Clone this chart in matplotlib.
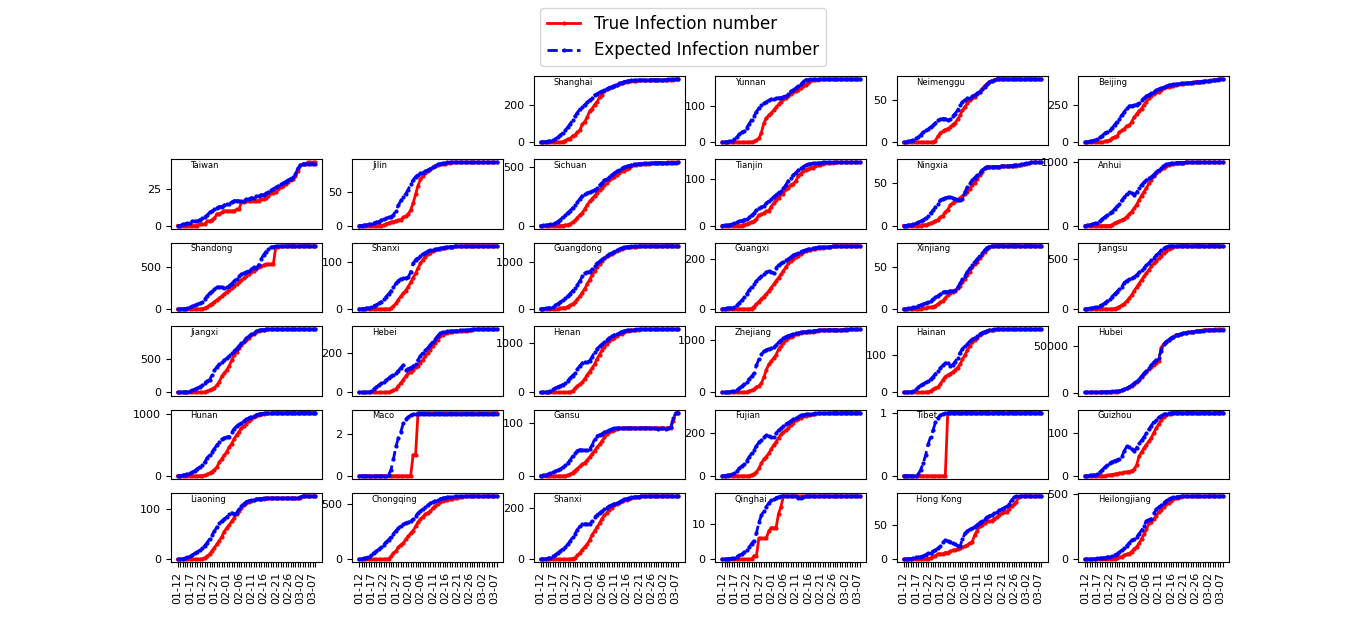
import numpy as np
import pandas as pd
import matplotlib
matplotlib.use("Agg")
import matplotlib.pyplot as plt
from matplotlib.ticker import MaxNLocator

# fechas 01-12 ... 03-08
dates = pd.date_range("2020-01-12", "2020-03-08").strftime("%m-%d").tolist()

provinces = ["Shanghai", "Yunnan", "Neimenggu", "Beijing",
             "Taiwan", "Jilin", "Sichuan", "Tianjin", "Ningxia", "Anhui",
             "Shandong", "Shanxi", "Guangdong", "Guangxi", "Xinjiang", "Jiangsu",
             "Jiangxi", "Hebei", "Henan", "Zhejiang", "Hainan", "Hubei",
             "Hunan", "Maco", "Gansu", "Fujian", "Tibet", "Guizhou",
             "Liaoning", "Chongqing", "Shanxi", "Qinghai", "Hong Kong", "Heilongjiang"]

# casos acumulados (true / expected)
shanghai_true = [0] * 9 + [2, 9, 16, 20, 33, 40, 53, 66, 96, 112, 135, 169, 182, 203, 219, 243, 257, 277, 286, 293,
                           299, 303, 311, 315, 318, 326, 328, 332, 333, 333, 333, 334, 334, 335, 335, 335, 336, 337,
                           337, 337, 337, 337, 338, 339, 339, 339, 342, 342]
shanghai_exp = [0, 2, 3, 5, 8, 12, 18, 27, 38, 50, 65, 80, 98, 118, 140, 160, 178, 192, 203, 215,
                228, 240, 255, 262, 270, 276, 283, 290, 296, 301, 306, 312, 318, 323, 327, 330, 332, 334, 335, 336,
                336, 337, 337, 337, 338, 338, 338, 338, 338, 339, 339, 339, 340, 340, 340, 341, 342]

yunnan_true = [0] * 12 + [1, 2, 5, 11, 26, 52, 66, 74, 80, 88, 96, 104, 112, 118, 122, 128, 134, 138, 140, 143,
                          149, 154, 157, 162, 168, 170, 172, 172, 173] + [174] * 16
yunnan_exp = [0, 0, 1, 2, 4, 8, 14, 22, 27, 32, 40, 50, 62, 72, 84, 94, 102, 107, 111, 115,
              118, 120, 121, 122, 123, 125, 128, 134, 140, 144, 149, 155, 160, 166, 172, 172, 173, 173] + [173] * 19

neimenggu_true = [0] * 13 + [2, 7, 11, 13, 15, 16, 18, 21, 23, 27, 32, 38, 42, 46, 50, 52, 54, 57, 60, 63,
                             67, 69, 72, 73, 74] + [75] * 19
neimenggu_exp = [0, 0, 1, 2, 3, 5, 6, 9, 12, 14, 16, 18, 20, 23, 26, 27, 28, 28, 26, 28,
                 31, 34, 38, 44, 48, 50, 52, 53, 55, 56, 58, 60, 63, 66, 69, 71, 73, 74] + [75] * 19

beijing_true = [0] * 8 + [5, 10, 14, 26, 36, 41, 68, 80, 91, 111, 114, 139, 168, 191, 212, 228, 253, 274, 297, 315,
                          326, 337, 342, 352, 366, 372, 375, 380, 381, 387, 393, 395, 396, 399, 399, 400, 400, 410,
                          410, 411, 413, 414, 414, 418, 418, 422, 426, 428, 428]
beijing_exp = [0, 2, 6, 10, 16, 22, 32, 45, 60, 72, 85, 96, 118, 138, 160, 185, 205, 232, 245, 248,
               250, 255, 268, 285, 298, 312, 322, 330, 340, 352, 360, 366, 372, 380, 386, 390, 392, 394, 396, 398,
               399, 400, 402, 404, 405, 407, 408, 410, 411, 413, 415, 417, 419, 421, 424, 426, 428]

taiwan_true = [0] * 9 + [1, 1, 1, 3, 3, 4, 5, 8, 8, 9, 10, 10, 10, 10, 10, 11, 11, 16, 16, 17,
                         17, 17, 17, 17, 17, 18, 18, 19, 20, 22, 22, 23, 25, 26, 27, 28, 30, 31, 32, 34,
                         37, 41, 42, 42, 43, 43, 43, 43]
taiwan_exp = [0, 0, 1, 1, 2, 2, 3, 3, 3, 4, 5, 6, 7, 9, 10, 11, 12, 13, 13, 14,
              15, 15, 16, 17, 17, 17, 17, 17, 18, 18, 19, 19, 20, 20, 21, 21, 22, 23, 24, 25,
              26, 27, 28, 29, 30, 31, 32, 33, 35, 39, 41, 42, 42, 42, 42, 42, 42]

jilin_true = [0] * 10 + [1, 3, 4, 5, 6, 7, 8, 9, 12, 14, 17, 23, 33, 46, 59, 68, 73, 77, 80, 83,
                         86, 88, 89, 90, 91, 91, 92, 92, 93, 93] + [93] * 17
jilin_exp = [0, 0, 1, 1, 2, 3, 4, 5, 6, 8, 10, 11, 12, 13, 16, 22, 30, 37, 42, 47,
             53, 61, 67, 72, 75, 77, 78, 80, 82, 84, 86, 88, 90, 91, 92, 92, 93] + [93] * 20

sichuan_true = [0] * 9 + [1, 5, 8, 15, 28, 44, 69, 90, 108, 142, 177, 207, 231, 254, 282, 301, 321, 344, 363, 386,
                          405, 417, 436, 451, 463, 470, 481, 495, 508, 514, 520, 525, 526, 526, 527, 529, 531, 534,
                          538, 538, 538, 538, 538, 539, 539, 539, 539, 539]
sichuan_exp = [0, 2, 4, 7, 10, 14, 22, 35, 50, 70, 90, 110, 128, 150, 172, 200, 230, 255, 272, 280,
               285, 292, 305, 322, 345, 365, 385, 400, 418, 432, 448, 462, 476, 488, 498, 506, 512, 518, 522, 525,
               527, 529, 530, 531, 532, 533, 534, 535, 535, 536, 536, 537, 537, 538, 538, 538, 539]

tianjin_true = [0] * 9 + [2, 4, 5, 8, 10, 14, 23, 24, 27, 31, 32, 41, 48, 56, 60, 67, 69, 78, 81, 88,
                          90, 96, 106, 112, 117, 120, 122, 124, 125, 128, 130, 131, 132, 135, 135, 135, 135] + [136] * 11
tianjin_exp = [0, 1, 1, 2, 3, 5, 7, 9, 11, 13, 15, 18, 22, 27, 33, 38, 40, 42, 48, 53,
               57, 62, 66, 71, 75, 80, 88, 97, 103, 109, 114, 119, 124, 127, 130, 132, 133, 134, 134, 135,
               135] + [136] * 16

ningxia_true = [0] * 8 + [1, 1, 2, 3, 4, 6, 7, 10, 12, 16, 19, 24, 27, 29, 31, 33, 35, 38, 40, 44,
                          48, 51, 55, 60, 64, 68, 70, 70, 70, 70, 70, 70, 71, 71, 71, 71, 71, 71, 71, 72,
                          72, 73, 73, 74, 75, 75, 75, 75, 75]
ningxia_exp = [0, 0, 1, 1, 2, 3, 4, 5, 7, 9, 12, 15, 18, 22, 26, 30, 32, 33, 34, 34,
               33, 32, 31, 30, 32, 40, 46, 50, 54, 57, 60, 63, 66, 68, 70, 70, 70, 70, 70, 70,
               71, 71, 71, 71, 71, 72, 72, 72, 73, 73, 74, 74, 75, 75, 75, 75, 75]

anhui_true = [0] * 10 + [1, 15, 39, 55, 70, 90, 106, 140, 180, 220, 270, 330, 400, 470, 530, 590, 660, 720, 770, 820,
                         855, 885, 910, 930, 948, 960, 972, 980, 985, 987, 988, 989, 989, 989, 989, 989] + [990] * 11
anhui_exp = [0, 5, 15, 25, 35, 42, 70, 105, 137, 165, 195, 220, 260, 300, 345, 400, 445, 490, 530, 505,
             480, 520, 590, 640, 680, 710, 740, 765, 800, 840, 878, 910, 940, 958, 970, 978, 983, 986, 987, 988,
             988, 989, 989] + [990] * 14

shandong_true = [0] * 10 + [5, 12, 25, 45, 65, 88, 110, 130, 155, 180, 205, 228, 250, 272, 295, 320, 345, 372, 398,
                            420, 440, 462, 484, 500, 515, 528, 535, 538, 540, 542, 748, 750, 754, 755, 756, 756, 756,
                            756, 756, 758] + [758] * 7
shandong_exp = [0, 1, 3, 5, 10, 20, 33, 45, 55, 67, 90, 120, 155, 190, 215, 240, 260, 265, 262, 258,
                262, 280, 306, 335, 365, 395, 415, 432, 446, 462, 480, 500, 490, 530, 600, 650, 690, 720, 740, 748,
                752, 754, 755, 756, 756, 756] + [757] * 11

shanxi_true = [0] * 13 + [2, 6, 12, 20, 27, 33, 39, 47, 56, 66, 75, 86, 96, 104, 110, 115, 119, 122, 124, 126,
                          127, 128, 129, 130, 131, 131, 132, 132, 132] + [133] * 15
shanxi_exp = [0, 0, 1, 2, 3, 5, 7, 9, 12, 15, 21, 26, 32, 38, 46, 54, 60, 64, 66, 66,
              67, 78, 96, 104, 108, 112, 116, 119, 122, 124, 125, 126, 127, 128, 129, 130, 130, 131, 131] + [132] * 18

guangdong_true = [0] * 7 + [1, 14, 26, 32, 53, 78, 111, 151, 207, 277, 354, 436, 535, 632, 725, 813, 895, 970, 1034,
                            1095, 1131, 1159, 1177, 1219, 1241, 1261, 1294, 1316, 1322, 1328, 1331, 1332, 1333, 1339,
                            1342, 1345, 1347, 1347, 1347, 1348, 1349, 1349, 1350, 1350, 1350, 1351, 1352, 1352, 1352,
                            1352]
guangdong_exp = [0, 5, 12, 22, 32, 50, 80, 115, 150, 185, 226, 275, 330, 390, 455, 520, 600, 700, 770, 790,
                 800, 850, 930, 980, 1020, 1060, 1100, 1140, 1170, 1200, 1230, 1260, 1285, 1305, 1320, 1330, 1336,
                 1340, 1343, 1345, 1346, 1347, 1347, 1348, 1348, 1349, 1349, 1349, 1350, 1350, 1350, 1351, 1351,
                 1351, 1352, 1352, 1352]

guangxi_true = [0] * 12 + [2, 10, 20, 30, 40, 50, 60, 72, 85, 98, 112, 125, 138, 152, 168, 182, 192, 200, 206, 212,
                           220, 226, 231, 234, 237, 239, 241, 242, 244, 245, 246, 248, 249, 250, 251, 252] + [252] * 9
guangxi_exp = [0, 2, 4, 5, 6, 8, 15, 25, 35, 48, 60, 75, 88, 100, 112, 122, 130, 140, 148, 150,
               148, 143, 165, 175, 182, 188, 194, 200, 208, 214, 220, 225, 229, 233, 236, 239, 241, 243, 245, 246,
               247, 248, 248, 249, 249, 250] + [250] * 11

xinjiang_true = [0] * 8 + [1, 1, 2, 2, 3, 4, 6, 8, 10, 13, 17, 19, 21, 22, 25, 28, 32, 36, 41, 45,
                           50, 54, 57, 61, 65, 69, 72, 75] + [76] * 21
xinjiang_exp = [0, 0, 1, 1, 2, 3, 4, 5, 6, 7, 9, 10, 12, 14, 16, 18, 20, 21, 21, 22,
                22, 23, 26, 31, 36, 40, 45, 49, 53, 57, 60, 64, 67, 71, 74, 75] + [76] * 21

jiangsu_true = [0] * 11 + [1, 5, 12, 25, 38, 55, 80, 108, 140, 180, 218, 255, 290, 325, 358, 392, 425, 455, 482, 505,
                           530, 558, 582, 600, 612, 622, 628, 630] + [631] * 18
jiangsu_exp = [0, 3, 7, 12, 17, 25, 33, 45, 60, 80, 100, 125, 150, 175, 200, 225, 265, 285, 298, 307,
               320, 342, 365, 390, 412, 435, 460, 485, 510, 535, 560, 585, 605, 620, 628, 630] + [631] * 21

jiangxi_true = [0] * 9 + [2, 3, 7, 18, 36, 48, 72, 109, 162, 240, 286, 333, 391, 476, 548, 600, 661, 698, 740, 771,
                          804, 844, 872, 900, 913, 925, 930, 933, 934, 934, 934, 934, 934, 934, 934, 934] + [935] * 12
jiangxi_exp = [0, 2, 5, 8, 14, 22, 32, 48, 66, 84, 110, 140, 170, 185, 260, 330, 380, 420, 455, 480,
               505, 540, 580, 615, 650, 690, 730, 765, 800, 830, 860, 885, 905, 918, 926, 930, 932, 933, 934,
               934] + [935] * 17

hebei_true = [0] * 11 + [1, 2, 5, 10, 18, 33, 48, 65, 82, 96, 104, 113, 126, 135, 150, 165, 185, 200, 215, 235,
                         250, 265, 283, 291, 300, 301, 306, 306, 307, 308, 309, 311, 311, 311, 312, 312, 317] + [318] * 9
hebei_exp = [0, 0, 0, 1, 3, 8, 18, 28, 37, 46, 55, 63, 72, 82, 90, 100, 110, 125, 138, 115,
             120, 125, 132, 145, 165, 185, 200, 212, 225, 240, 255, 270, 285, 297, 303, 306, 308, 309, 310, 310,
             311, 312, 313, 314, 315, 316, 317] + [318] * 10

henan_true = [0] * 10 + [1, 5, 9, 32, 83, 128, 168, 206, 278, 352, 422, 493, 566, 675, 764, 851, 914, 981, 1033,
                         1073, 1105, 1135, 1169, 1184, 1212, 1231, 1246, 1257, 1262, 1265, 1267, 1270, 1271, 1271,
                         1271, 1271] + [1272] * 11
henan_exp = [0, 2, 6, 13, 35, 60, 90, 115, 135, 160, 195, 235, 290, 340, 390, 470, 540, 590, 615, 620,
             640, 720, 820, 880, 930, 970, 1010, 1060, 1100, 1130, 1160, 1185, 1205, 1225, 1240, 1250, 1258, 1263,
             1266, 1268, 1269, 1270, 1271] + [1272] * 14

zhejiang_true = [0] * 9 + [5, 10, 27, 43, 62, 104, 128, 173, 296, 428, 538, 599, 661, 724, 829, 895, 954, 1006, 1048,
                           1075, 1092, 1117, 1131, 1145, 1155, 1162, 1167, 1171, 1172, 1173, 1175, 1203, 1205, 1205,
                           1205, 1205, 1205, 1205, 1205, 1205, 1206, 1213, 1213, 1215, 1215, 1215, 1215, 1215]
zhejiang_exp = [0, 3, 8, 14, 20, 35, 50, 80, 120, 160, 210, 260, 310, 370, 520, 640, 730, 790, 820, 840,
                855, 868, 910, 965, 1010, 1050, 1075, 1095, 1110, 1125, 1135, 1145, 1155, 1162, 1168, 1175, 1180,
                1185, 1190, 1194, 1198, 1200, 1202, 1204, 1205, 1205, 1206, 1206, 1207, 1207, 1208, 1210, 1211,
                1212, 1213, 1214, 1215]

hainan_true = [0] * 9 + [1, 2, 4, 8, 12, 15, 22, 33, 42, 46, 50, 54, 60, 66, 75, 88, 100, 112, 124, 133,
                         140, 146, 152, 157, 161, 163, 165, 166, 167] + [168] * 19
hainan_exp = [0, 0, 1, 2, 4, 8, 14, 19, 23, 27, 30, 35, 42, 50, 58, 66, 72, 78, 79, 70,
              74, 82, 92, 106, 116, 124, 130, 136, 141, 145, 150, 155, 159, 162, 164, 166, 167] + [168] * 20

hubei_true = [41, 41, 41, 41, 41, 45, 62, 198, 270, 375, 444, 549, 729, 1052, 1423, 2714, 3554, 4586, 5806, 7153,
              9074, 11177, 13522, 16678, 19665, 22112, 24953, 27100, 29631, 31728, 33366, 48206, 51986, 54406,
              56249, 58182, 59989, 61682, 62031, 62662, 63454, 63889, 64287, 64786, 65187, 65596, 65914, 66337,
              66907, 67103, 67217, 67332, 67466, 67592, 67666, 67707, 67743]
hubei_exp = [100, 150, 200, 300, 400, 500, 600, 700, 800, 900, 1000, 1100, 1200, 1400, 1800, 2600, 3600, 4800,
             6200, 7800, 9800, 12000, 14500, 17500, 20500, 23500, 26500, 29500, 32500, 35000, 37000, 45000,
             52500, 54500, 56500, 58300, 60000, 61300, 62100, 62800, 63400, 63900, 64300, 64700, 65100, 65400,
             65700, 66000, 66300, 66500, 66700, 66900, 67000, 67100, 67200, 67300, 67400]

hunan_true = [0] * 9 + [1, 4, 9, 24, 43, 69, 100, 143, 221, 277, 332, 389, 463, 521, 593, 661, 711, 772, 803, 838,
                        879, 912, 946, 968, 988, 1001, 1004, 1006, 1007, 1008, 1010, 1011, 1013, 1016, 1016, 1016,
                        1016, 1017, 1017] + [1018] * 9
hunan_exp = [0, 5, 12, 22, 35, 48, 62, 85, 115, 145, 180, 220, 290, 335, 390, 440, 500, 550, 590, 615,
             625, 632, 700, 760, 800, 830, 855, 885, 910, 935, 955, 972, 985, 995, 1003, 1007, 1010, 1012, 1013,
             1014, 1015, 1016, 1016, 1017, 1017] + [1018] * 12

maco_true = [0] * 22 + [1, 1] + [3] * 33
maco_exp = [0] * 12 + [0.05, 0.3, 0.8, 1.4, 1.8, 2.1, 2.5, 2.7, 2.8, 2.88, 2.92, 2.95] + [2.96] * 33

gansu_true = [0] * 11 + [2, 3, 6, 10, 14, 18, 22, 25, 30, 36, 42, 48, 54, 60, 66, 73, 79, 83, 86, 88,
                         89, 90, 91] + [91] * 20 + [104, 119, 120]
gansu_exp = [0, 1, 2, 3, 5, 7, 9, 11, 13, 16, 20, 24, 30, 37, 43, 48, 50, 49, 49, 50,
             52, 58, 70, 76, 78, 80, 83, 86, 88, 89, 90, 91, 91, 91, 91, 91, 91, 91, 91, 91,
             91, 91, 91, 91, 91, 91, 90, 90, 89, 90, 90, 89, 90, 92, 110, 119, 120]

fujian_true = [0] * 11 + [1, 5, 10, 18, 35, 59, 78, 90, 105, 125, 144, 159, 179, 194, 205, 215, 224, 239, 250, 261,
                          267, 272, 279, 281, 285, 287, 290, 292, 293, 293, 293, 293, 293, 293, 294, 294] + [296] * 10
fujian_exp = [0, 1, 3, 5, 8, 14, 22, 35, 46, 55, 70, 88, 105, 122, 140, 158, 170, 180, 190, 186,
              182, 180, 200, 214, 222, 232, 242, 250, 258, 265, 272, 278, 283, 286, 288, 290, 291, 292, 293, 293,
              293, 294, 294, 294, 294, 295] + [295] * 11

tibet_true = [0] * 18 + [1] * 39
tibet_exp = [0] * 6 + [0.03, 0.1, 0.2, 0.33, 0.5, 0.62, 0.72, 0.85, 0.92, 0.96, 0.98, 0.99] + [1] * 39

guizhou_true = [0] * 9 + [1, 2, 3, 4, 5, 6, 7, 8, 9, 10, 12, 15, 25, 45, 55, 64, 72, 80, 88, 100,
                          110, 120, 128, 135, 140, 143, 144, 145] + [146] * 20
guizhou_exp = [0, 0, 1, 2, 3, 5, 9, 14, 20, 25, 30, 33, 35, 37, 40, 45, 58, 68, 66, 62,
               57, 65, 75, 82, 90, 98, 108, 116, 125, 130, 135, 139, 142, 144, 145] + [146] * 22

liaoning_true = [0] * 10 + [1, 3, 6, 10, 17, 23, 30, 37, 45, 55, 62, 68, 75, 82, 90, 96, 102, 107, 111, 114,
                            116, 117, 119, 119, 120, 120, 121] + [121] * 13 + [122, 125] + [125] * 5
liaoning_exp = [0, 0, 1, 2, 4, 6, 9, 12, 15, 18, 22, 27, 33, 40, 48, 56, 64, 71, 76, 80,
                84, 90, 92, 90, 92, 100, 106, 110, 114, 116, 117, 118, 119, 120, 120, 121] + [121] * 14 + \
               [123, 125] + [125] * 5

chongqing_true = [0] * 11 + [1, 5, 27, 57, 75, 110, 132, 147, 182, 211, 238, 262, 300, 337, 366, 389, 411, 426, 438,
                             468, 486, 505, 518, 529, 537, 544, 551, 553, 555, 560, 567, 572, 573, 575] + [576] * 12
chongqing_exp = [0, 5, 10, 15, 25, 40, 60, 75, 92, 110, 135, 158, 180, 205, 235, 262, 285, 308, 325, 332,
                 336, 345, 370, 395, 420, 440, 458, 475, 495, 510, 522, 535, 545, 552, 558, 563, 567, 570, 572,
                 573, 574, 575, 575] + [576] * 14

shaanxi_true = [0] * 12 + [1, 3, 6, 15, 25, 38, 48, 58, 75, 95, 110, 125, 140, 158, 170, 180, 190, 200, 209, 215,
                           220, 225, 229, 230, 232, 236, 240, 240, 242] + [245] * 16
shaanxi_exp = [0, 1, 2, 4, 7, 12, 18, 25, 32, 40, 48, 58, 70, 85, 99, 115, 128, 136, 138, 137,
               135, 150, 164, 172, 180, 187, 194, 200, 206, 211, 216, 220, 224, 228, 232, 235, 238, 240, 241, 242,
               243, 244] + [245] * 15

qinghai_true = [0] * 13 + [1, 1, 6, 6, 6, 6, 8, 9, 9, 9, 13, 15, 18] + [18] * 31
qinghai_exp = [0, 0, 0.1, 0.2, 0.3, 0.5, 0.8, 1.1, 1.5, 2.0, 2.6, 3.4, 4.5, 5.3, 7.5, 10.5, 12.5, 13.8, 15.0,
               16.0, 16.8, 17.3, 17.6, 17.8, 17.9] + [18] * 6 + [17.6, 17.6, 17.8] + [18] * 23

hongkong_true = [0] * 10 + [1, 2, 5, 5, 8, 8, 8, 10, 10, 12, 13, 14, 15, 17, 18, 19, 21, 24, 26, 36,
                            42, 49, 50, 53, 56, 56, 57, 60, 62, 65, 68, 69, 70, 74, 79, 81, 85, 92] + [93] * 9
hongkong_exp = [0, 0, 1, 1, 2, 3, 3, 4, 5, 7, 9, 10, 12, 14, 16, 20, 25, 28, 27, 26,
                24, 22, 20, 19, 30, 38, 42, 44, 46, 48, 51, 54, 57, 60, 62, 64, 65, 68, 70, 72,
                74, 76, 78, 82, 87, 91, 93] + [93] * 10

heilongjiang_true = [0] * 10 + [1, 2, 4, 9, 15, 21, 33, 38, 44, 59, 80, 95, 121, 155, 190, 227, 277, 282, 307, 331,
                                360, 378, 395, 418, 425, 445, 457, 464, 470, 476, 479, 479, 480, 480, 480, 480, 480,
                                480, 480, 480, 480] + [481] * 6
heilongjiang_exp = [0, 0, 1, 2, 4, 7, 9, 11, 13, 17, 21, 26, 33, 42, 54, 70, 88, 105, 125, 145,
                    158, 170, 195, 220, 255, 292, 302, 310, 350, 380, 398, 410, 428, 445, 456, 465, 472, 476, 478,
                    479, 480] + [481] * 16

true_counts = [shanghai_true, yunnan_true, neimenggu_true, beijing_true,
               taiwan_true, jilin_true, sichuan_true, tianjin_true, ningxia_true, anhui_true,
               shandong_true, shanxi_true, guangdong_true, guangxi_true, xinjiang_true, jiangsu_true,
               jiangxi_true, hebei_true, henan_true, zhejiang_true, hainan_true, hubei_true,
               hunan_true, maco_true, gansu_true, fujian_true, tibet_true, guizhou_true,
               liaoning_true, chongqing_true, shaanxi_true, qinghai_true, hongkong_true, heilongjiang_true]
expected_counts = [shanghai_exp, yunnan_exp, neimenggu_exp, beijing_exp,
                   taiwan_exp, jilin_exp, sichuan_exp, tianjin_exp, ningxia_exp, anhui_exp,
                   shandong_exp, shanxi_exp, guangdong_exp, guangxi_exp, xinjiang_exp, jiangsu_exp,
                   jiangxi_exp, hebei_exp, henan_exp, zhejiang_exp, hainan_exp, hubei_exp,
                   hunan_exp, maco_exp, gansu_exp, fujian_exp, tibet_exp, guizhou_exp,
                   liaoning_exp, chongqing_exp, shaanxi_exp, qinghai_exp, hongkong_exp, heilongjiang_exp]

fig = plt.figure(figsize=(13.66, 6.32), dpi=100)
tick_labels = [d if k % 5 == 0 else "" for k, d in enumerate(dates)]

for i, name in enumerate(provinces):
    ax = fig.add_subplot(6, 6, i + 3)
    y_true = true_counts[i]
    y_exp = expected_counts[i]
    ax.plot(np.arange(len(y_true)), y_true, "r.-", lw=2, ms=4, label="True Infection number")
    ax.plot(np.arange(len(y_exp)), y_exp, "b.--", lw=2, ms=4, label="Expected Infection number")
    ax.text(0.13, 0.91, name, transform=ax.transAxes, fontsize=6, va="center")
    ax.yaxis.set_major_locator(MaxNLocator(nbins=2, steps=[1, 2, 2.5, 5, 10]))
    ax.tick_params(labelsize=8)
    if i >= len(provinces) - 6:
        ax.set_xticks(range(len(dates)))
        ax.set_xticklabels(tick_labels, rotation=90)
    else:
        ax.set_xticks([])

handles, labels = ax.get_legend_handles_labels()
fig.legend(handles, labels, loc="upper center", fontsize=12)
fig.savefig("out.png", dpi=100)
